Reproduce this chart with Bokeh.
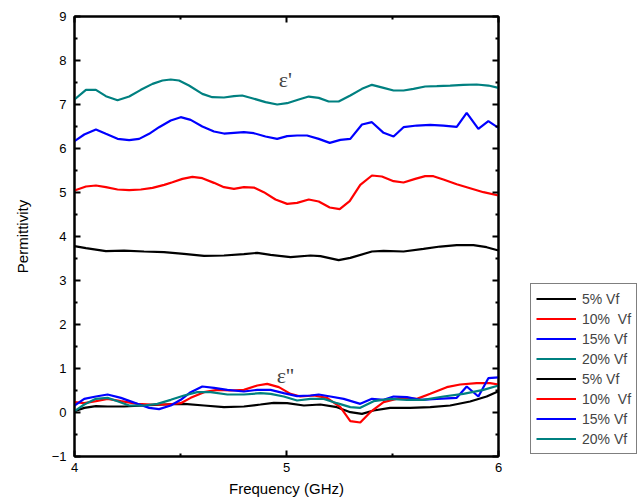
from bokeh.plotting import figure
from bokeh.layouts import row
from bokeh.models import Legend, LegendItem, LinearAxis, Range1d, Label, FixedTicker
from bokeh.embed import file_html
from bokeh.resources import INLINE

# ---------------- data ----------------
# eps' (real part)
x_b1 = [4.0, 4.054, 4.148, 4.234, 4.328, 4.422, 4.516, 4.611, 4.705, 4.799, 4.862, 4.925, 5.019, 5.113, 5.160, 5.246, 5.301, 5.403, 5.458, 5.552, 5.646, 5.725, 5.803, 5.882, 5.944, 6.0]
y_b1 = [3.78, 3.734, 3.666, 3.681, 3.659, 3.644, 3.606, 3.560, 3.568, 3.598, 3.628, 3.583, 3.530, 3.568, 3.553, 3.462, 3.515, 3.659, 3.674, 3.659, 3.719, 3.772, 3.803, 3.803, 3.757, 3.681]

x_r1 = [4.0, 4.054, 4.101, 4.148, 4.203, 4.258, 4.313, 4.368, 4.423, 4.462, 4.509, 4.556, 4.603, 4.658, 4.705, 4.752, 4.799, 4.846, 4.893, 4.948, 5.003, 5.050, 5.105, 5.152, 5.204, 5.251, 5.298, 5.348, 5.403, 5.450, 5.505, 5.552, 5.607, 5.654, 5.693, 5.740, 5.803, 5.866, 5.929, 6.0]
y_r1 = [5.045, 5.136, 5.159, 5.121, 5.068, 5.053, 5.068, 5.106, 5.174, 5.234, 5.310, 5.356, 5.325, 5.219, 5.121, 5.083, 5.121, 5.113, 5.007, 4.840, 4.742, 4.765, 4.840, 4.795, 4.659, 4.621, 4.803, 5.174, 5.386, 5.363, 5.257, 5.227, 5.310, 5.371, 5.371, 5.295, 5.189, 5.098, 5.007, 4.931]

x_bl1 = [4.0, 4.046, 4.101, 4.148, 4.203, 4.258, 4.305, 4.352, 4.399, 4.454, 4.501, 4.548, 4.603, 4.658, 4.705, 4.752, 4.799, 4.846, 4.901, 4.956, 5.003, 5.050, 5.097, 5.152, 5.204, 5.254, 5.301, 5.356, 5.403, 5.458, 5.505, 5.552, 5.615, 5.678, 5.740, 5.803, 5.850, 5.905, 5.952, 6.0]
y_bl1 = [6.166, 6.318, 6.431, 6.333, 6.219, 6.189, 6.219, 6.333, 6.484, 6.636, 6.712, 6.651, 6.500, 6.386, 6.340, 6.356, 6.371, 6.348, 6.272, 6.219, 6.280, 6.295, 6.295, 6.219, 6.128, 6.197, 6.219, 6.545, 6.598, 6.356, 6.272, 6.484, 6.522, 6.537, 6.522, 6.492, 6.810, 6.447, 6.621, 6.469]

x_t1 = [4.0, 4.054, 4.101, 4.148, 4.203, 4.258, 4.313, 4.368, 4.415, 4.454, 4.493, 4.540, 4.603, 4.650, 4.705, 4.752, 4.791, 4.838, 4.901, 4.956, 5.003, 5.058, 5.105, 5.152, 5.199, 5.246, 5.301, 5.356, 5.403, 5.458, 5.505, 5.552, 5.599, 5.654, 5.709, 5.772, 5.834, 5.897, 5.952, 6.0]
y_t1 = [7.113, 7.333, 7.333, 7.189, 7.098, 7.181, 7.333, 7.469, 7.545, 7.568, 7.545, 7.431, 7.242, 7.166, 7.159, 7.189, 7.204, 7.143, 7.053, 7.000, 7.030, 7.113, 7.181, 7.151, 7.068, 7.068, 7.204, 7.356, 7.447, 7.378, 7.318, 7.318, 7.356, 7.409, 7.416, 7.431, 7.447, 7.454, 7.431, 7.378]

# eps'' (imaginary part)
x_b2 = [4.0, 4.046, 4.101, 4.156, 4.234, 4.328, 4.423, 4.517, 4.611, 4.705, 4.799, 4.877, 4.940, 5.003, 5.082, 5.160, 5.238, 5.301, 5.356, 5.411, 5.489, 5.583, 5.678, 5.772, 5.866, 5.944, 6.0]
y_b2 = [0.03, 0.106, 0.144, 0.136, 0.136, 0.159, 0.182, 0.197, 0.159, 0.121, 0.136, 0.182, 0.220, 0.212, 0.159, 0.182, 0.121, 0.007, -0.031, 0.045, 0.106, 0.106, 0.121, 0.159, 0.250, 0.364, 0.485]

x_r2 = [4.0, 4.046, 4.101, 4.156, 4.219, 4.297, 4.360, 4.438, 4.501, 4.548, 4.611, 4.674, 4.736, 4.799, 4.862, 4.909, 4.964, 5.019, 5.066, 5.129, 5.191, 5.254, 5.301, 5.348, 5.395, 5.458, 5.536, 5.615, 5.678, 5.756, 5.819, 5.897, 5.960, 6.0]
y_r2 = [0.235, 0.212, 0.257, 0.310, 0.257, 0.197, 0.182, 0.182, 0.212, 0.333, 0.462, 0.515, 0.500, 0.515, 0.614, 0.651, 0.576, 0.424, 0.364, 0.386, 0.333, 0.121, -0.197, -0.227, 0.007, 0.235, 0.333, 0.310, 0.424, 0.576, 0.636, 0.667, 0.667, 0.636]

x_bl2 = [4.0, 4.046, 4.101, 4.156, 4.219, 4.297, 4.352, 4.399, 4.454, 4.501, 4.548, 4.603, 4.658, 4.721, 4.799, 4.862, 4.925, 4.987, 5.050, 5.113, 5.152, 5.207, 5.270, 5.348, 5.403, 5.458, 5.505, 5.568, 5.631, 5.709, 5.803, 5.850, 5.905, 5.952, 6.0]
y_bl2 = [0.159, 0.310, 0.364, 0.409, 0.333, 0.197, 0.106, 0.076, 0.159, 0.288, 0.462, 0.591, 0.560, 0.515, 0.477, 0.515, 0.515, 0.439, 0.371, 0.386, 0.409, 0.364, 0.310, 0.197, 0.310, 0.288, 0.364, 0.348, 0.288, 0.310, 0.333, 0.591, 0.364, 0.780, 0.800]

x_t2 = [4.0, 4.046, 4.101, 4.156, 4.203, 4.258, 4.328, 4.391, 4.454, 4.517, 4.579, 4.642, 4.721, 4.799, 4.877, 4.925, 4.987, 5.050, 5.113, 5.176, 5.238, 5.301, 5.348, 5.411, 5.489, 5.568, 5.646, 5.740, 5.834, 5.929, 6.0]
y_t2 = [0.030, 0.182, 0.310, 0.333, 0.257, 0.159, 0.159, 0.197, 0.288, 0.386, 0.462, 0.462, 0.409, 0.409, 0.439, 0.424, 0.364, 0.273, 0.310, 0.310, 0.212, 0.121, 0.106, 0.257, 0.310, 0.288, 0.288, 0.364, 0.424, 0.515, 0.614]

labels = ["5% Vf", "10%  Vf", "15% Vf", "20% Vf"]
colors = ["#000000", "#ff0000", "#0000ff", "#008080"]

x_ticks = [4, 5, 6]
x_minor = [4.5, 5.5]
y_ticks = [-1, 0, 1, 2, 3, 4, 5, 6, 7, 8, 9]
y_minor = [-0.5, 0.5, 1.5, 2.5, 3.5, 4.5, 5.5, 6.5, 7.5, 8.5]

series1 = [(x_b1, y_b1), (x_r1, y_r1), (x_bl1, y_bl1), (x_t1, y_t1)]
series2 = [(x_b2, y_b2), (x_r2, y_r2), (x_bl2, y_bl2), (x_t2, y_t2)]

# ---------------- main figure ----------------
FONT = "Liberation Sans"
p = figure(width=530, height=504, output_backend="svg", toolbar_location=None,
           x_range=Range1d(4, 6), y_range=Range1d(-1, 9),
           min_border_left=74, min_border_right=32, min_border_top=16, min_border_bottom=48,
           x_axis_label="Frequency (GHz)", y_axis_label="Permittivity")
p.grid.visible = False
p.outline_line_color = "#000000"
p.outline_line_width = 2
p.background_fill_color = "white"
p.border_fill_color = "white"

for ax in (p.xaxis[0], p.yaxis[0]):
    ax.axis_line_width = 2
    ax.major_tick_in = 6
    ax.major_tick_out = 0
    ax.minor_tick_in = 3
    ax.minor_tick_out = 0
    ax.major_tick_line_width = 2
    ax.minor_tick_line_width = 2
    ax.major_label_text_font = FONT
    ax.major_label_text_font_size = "13px"
    ax.major_label_text_color = "#000000"
    ax.axis_label_text_font = FONT
    ax.axis_label_text_font_size = "15px"
    ax.axis_label_text_font_style = "normal"
    ax.axis_label_text_color = "#000000"

p.xaxis[0].ticker = FixedTicker(ticks=x_ticks, minor_ticks=x_minor)
p.yaxis[0].ticker = FixedTicker(ticks=y_ticks, minor_ticks=y_minor)
p.xaxis[0].major_label_standoff = 6
p.xaxis[0].axis_label_standoff = 5
p.yaxis[0].major_label_standoff = 8
p.yaxis[0].axis_label_standoff = 18


def mirror_axis(ticks, minor):
    return LinearAxis(axis_line_width=2, major_tick_in=6, major_tick_out=0,
                      minor_tick_in=3, minor_tick_out=0,
                      major_tick_line_width=2, minor_tick_line_width=2,
                      major_label_standoff=0,
                      major_label_overrides={t: "" for t in ticks},
                      ticker=FixedTicker(ticks=ticks, minor_ticks=minor))


p.add_layout(mirror_axis(x_ticks, x_minor), "above")
p.add_layout(mirror_axis(y_ticks, y_minor), "right")

for (xs, ys), c in zip(series1 + series2, colors + colors):
    p.line(xs, ys, line_color=c, line_width=2.2)

p.add_layout(Label(x=4.995, y=7.575, text="ε'", text_font="Liberation Serif",
                   text_font_size="22px", text_align="center", text_baseline="middle"))
p.add_layout(Label(x=4.995, y=0.85, text="ε''", text_font="Liberation Serif",
                   text_font_size="22px", text_align="center", text_baseline="middle"))

# ---------------- legend panel ----------------
# same series, drawn out of view; only the legend of this panel is visible
pl = figure(width=112, height=504, output_backend="svg", toolbar_location=None,
            x_range=Range1d(100, 101), y_range=Range1d(-1, 9),
            x_axis_location=None, y_axis_location=None,
            min_border_left=0, min_border_right=0, min_border_top=0, min_border_bottom=0)
pl.grid.visible = False
pl.outline_line_color = None
pl.background_fill_color = "white"
pl.border_fill_color = "white"

items = []
for (xs, ys), c, lab in zip(series1 + series2, colors + colors, labels + labels):
    r = pl.line(xs, ys, line_color=c, line_width=2.2)
    items.append(LegendItem(label=lab, renderers=[r]))

legend = Legend(items=items, location=(0, 2),
                label_text_font=FONT, label_text_font_size="14px",
                glyph_width=40, glyph_height=19, label_height=19,
                spacing=1, padding=5, margin=0, label_standoff=6,
                border_line_color="#000000", border_line_width=1,
                background_fill_alpha=1.0)
pl.add_layout(legend, "center")

open("out.html", "w").write(file_html(row(p, pl), INLINE))
